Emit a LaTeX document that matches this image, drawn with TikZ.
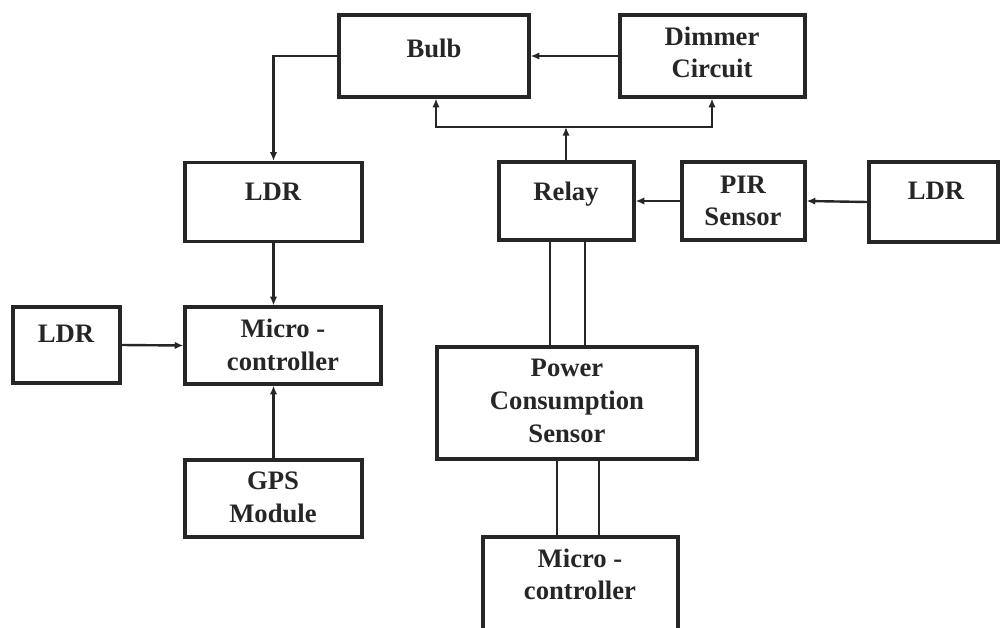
\documentclass[tikz,border=0pt]{standalone}
\usepackage{fontspec}
\setmainfont{Liberation Serif}
\usetikzlibrary{arrows.meta}
\begin{document}
\begin{tikzpicture}[x=0.75pt,y=-0.75pt,
  box/.style 2 args={draw=black!85, line width=2.4pt, minimum width=#1*0.75pt, minimum height=#2*0.75pt, inner sep=0pt},
  lbl/.style={font=\bfseries\fontsize{20}{24.5}\selectfont, align=center, inner sep=0pt, text=black!85},
  conn/.style={draw=black!85, line width=1.8pt},
  arr/.style={conn, -{Latex[length=6.5pt,width=5.5pt]}},
  darr/.style={conn, {Latex[length=6.5pt,width=5.5pt]}-{Latex[length=6.5pt,width=5.5pt]}}]
\clip (0,0) rectangle (1000,628);
\fill[white] (0,0) rectangle (1000,628);
% boxes
\node[box={190}{82}] (bulb) at (434,56) {};
\node[box={185}{82}] (dimmer) at (712.5,56) {};
\node[box={177}{79}] (ldrtop) at (273.5,202) {};
\node[box={135}{78}] (relay) at (566.5,201) {};
\node[box={123}{78}] (pir) at (743.5,201) {};
\node[box={129}{80}] (ldrR) at (933.5,202) {};
\node[box={107}{76}] (ldrL) at (66.5,345) {};
\node[box={196}{77}] (microL) at (283,345.5) {};
\node[box={177}{77}] (gps) at (273.5,498.5) {};
\node[box={260}{112}] (pcs) at (567,403) {};
\node[box={195}{123}] (microB) at (580.5,598.5) {};
% labels
\node[lbl] (bulbt) at (434,48) {Bulb};
\node[lbl] (dimmert) at (712,52.5) {Dimmer\\Circuit};
\node[lbl] (ldrtopt) at (273,192) {LDR};
\node[lbl] (relayt) at (566,194) {Relay};
\node[lbl] (pirt) at (743,201) {PIR\\Sensor};
\node[lbl] (ldrRt) at (936,191) {LDR};
\node[lbl] (ldrLt) at (66,334) {LDR};
\node[lbl] (microLt) at (283,345) {Micro -\\controller};
\node[lbl] (gpst) at (273,497) {GPS\\Module};
\node[lbl] (pcst) at (567,401) {Power\\Consumption\\Sensor};
\node[lbl] (microBt) at (580,574.5) {Micro -\\controller};
% connectors
\coordinate (jmid) at (566,127);
\coordinate (bx) at (436,0);
\coordinate (dx) at (712,0);
\coordinate (r1) at (550,0);
\coordinate (r2) at (585,0);
\coordinate (p1) at (557,0);
\coordinate (p2) at (599,0);
\draw[arr] (dimmer.west) -- (bulb.east);
\draw[arr] (bulb.west) -| (ldrtop.north);
\draw[darr] (bulb.south -| bx) |- (jmid) -| (dimmer.south -| dx);
\draw[arr] (relay.north -| jmid) -- (jmid);
\draw[arr] (pir.west) -- (relay.east);
\draw[arr] (ldrR.west) -- (pir.east);
\draw[arr] (ldrtop.south) -- (ldrtop.south |- microL.north);
\draw[arr] (ldrL.east) -- (microL.west);
\draw[arr] (gps.north) -- (gps.north |- microL.south);
\draw[conn] (relay.south -| r1) -- (pcs.north -| r1);
\draw[conn] (relay.south -| r2) -- (pcs.north -| r2);
\draw[conn] (pcs.south -| p1) -- (microB.north -| p1);
\draw[conn] (pcs.south -| p2) -- (microB.north -| p2);
\end{tikzpicture}
\end{document}
